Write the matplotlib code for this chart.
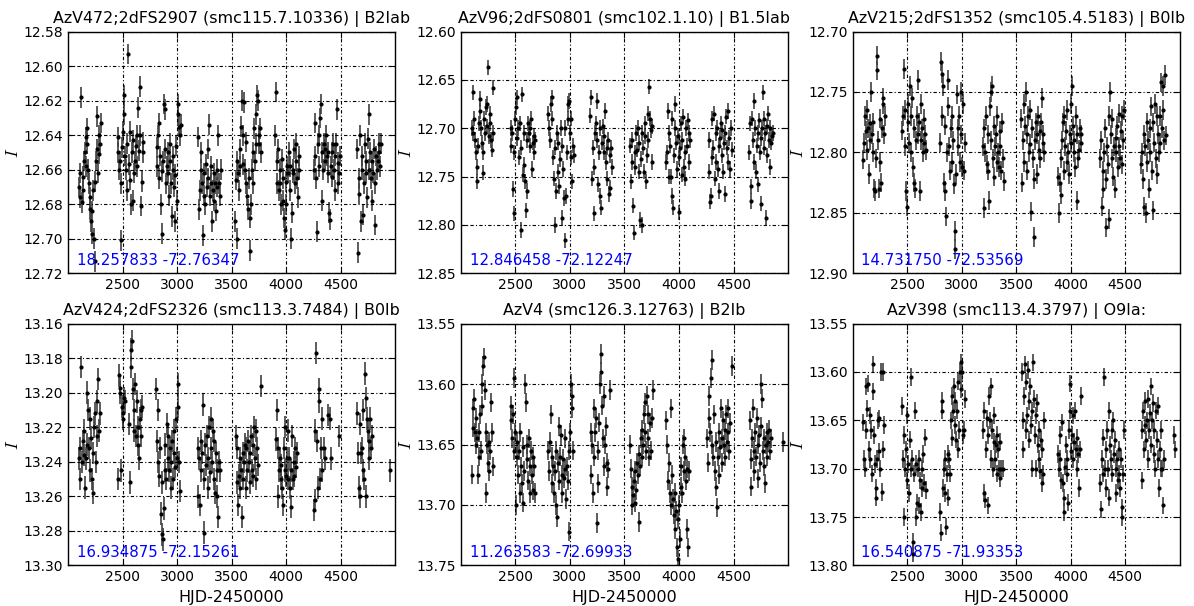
import matplotlib
matplotlib.use('Agg')
import numpy as np
import matplotlib.pyplot as plt

plt.rcParams['mathtext.fontset'] = 'cm'

# ---- light curves: (HJD-2450000, I mag) ----
azv472 = [
    (2098, 12.670), (2105, 12.676), (2112, 12.662), (2120, 12.618), (2126, 12.679), (2133, 12.672), (2140, 12.664),
    (2148, 12.655), (2155, 12.650), (2160, 12.641), (2166, 12.658), (2172, 12.636), (2178, 12.645), (2185, 12.660),
    (2190, 12.668), (2197, 12.676), (2203, 12.683), (2210, 12.690), (2216, 12.684), (2222, 12.697), (2228, 12.672),
    (2235, 12.700), (2243, 12.667), (2250, 12.713), (2256, 12.655), (2262, 12.648), (2268, 12.629), (2274, 12.662),
    (2280, 12.640), (2288, 12.651), (2295, 12.645), (2302, 12.633),
    (2455, 12.650), (2462, 12.641), (2468, 12.660), (2475, 12.655), (2482, 12.668), (2490, 12.701), (2497, 12.647),
    (2503, 12.638), (2510, 12.628), (2517, 12.617), (2523, 12.652), (2530, 12.660), (2537, 12.672), (2544, 12.645),
    (2551, 12.593), (2558, 12.657), (2565, 12.638), (2572, 12.666), (2579, 12.680), (2586, 12.650), (2593, 12.643),
    (2600, 12.678), (2607, 12.662), (2614, 12.655), (2621, 12.646), (2628, 12.640), (2635, 12.658), (2642, 12.624),
    (2649, 12.649), (2656, 12.612), (2663, 12.640), (2670, 12.681), (2677, 12.667), (2684, 12.644), (2690, 12.650),
    (2812, 12.647), (2818, 12.658), (2825, 12.640), (2832, 12.633), (2838, 12.665), (2845, 12.652), (2852, 12.680),
    (2858, 12.661), (2865, 12.697), (2872, 12.655), (2878, 12.622), (2885, 12.648), (2892, 12.625), (2898, 12.668),
    (2905, 12.658), (2912, 12.650), (2918, 12.662), (2925, 12.675), (2932, 12.655), (2938, 12.645), (2945, 12.668),
    (2952, 12.687), (2958, 12.660), (2965, 12.652), (2972, 12.670), (2978, 12.690), (2985, 12.663), (2992, 12.646),
    (2998, 12.678), (3005, 12.628), (3012, 12.622), (3018, 12.635), (3025, 12.640), (3032, 12.634),
    (3195, 12.641), (3202, 12.683), (3209, 12.672), (3216, 12.660), (3223, 12.650), (3230, 12.668), (3237, 12.698),
    (3244, 12.675), (3251, 12.662), (3258, 12.680), (3265, 12.657), (3272, 12.670), (3279, 12.648), (3286, 12.665),
    (3293, 12.634), (3300, 12.675), (3307, 12.658), (3314, 12.668), (3321, 12.690), (3328, 12.672), (3335, 12.662),
    (3342, 12.678), (3349, 12.668), (3356, 12.684), (3363, 12.670), (3370, 12.660), (3377, 12.640), (3384, 12.668),
    (3392, 12.675), (3400, 12.660),
    (3532, 12.690), (3538, 12.666), (3545, 12.700), (3552, 12.655), (3559, 12.662), (3566, 12.672), (3573, 12.648),
    (3580, 12.658), (3587, 12.635), (3594, 12.620), (3601, 12.640), (3608, 12.657), (3615, 12.621), (3622, 12.660),
    (3629, 12.644), (3636, 12.668), (3643, 12.675), (3650, 12.683), (3657, 12.665), (3664, 12.688), (3671, 12.707),
    (3678, 12.680), (3685, 12.660), (3692, 12.668), (3699, 12.650), (3706, 12.636), (3713, 12.655), (3720, 12.628),
    (3727, 12.645), (3734, 12.617), (3741, 12.620), (3748, 12.640), (3755, 12.645), (3762, 12.636), (3770, 12.650),
    (3898, 12.640), (3905, 12.615), (3912, 12.668), (3919, 12.655), (3926, 12.648), (3933, 12.672), (3940, 12.660),
    (3947, 12.668), (3954, 12.680), (3961, 12.654), (3968, 12.665), (3975, 12.678), (3982, 12.688), (3989, 12.695),
    (3996, 12.680), (4003, 12.667), (4010, 12.658), (4017, 12.662), (4024, 12.650), (4031, 12.672), (4038, 12.658),
    (4045, 12.700), (4052, 12.685), (4059, 12.662), (4066, 12.660), (4073, 12.648), (4080, 12.668), (4087, 12.655),
    (4094, 12.645), (4101, 12.665), (4108, 12.676), (4115, 12.660), (4122, 12.652),
    (4255, 12.660), (4262, 12.633), (4269, 12.652), (4276, 12.665), (4283, 12.696), (4290, 12.645), (4297, 12.640),
    (4304, 12.658), (4311, 12.630), (4318, 12.622), (4325, 12.678), (4332, 12.650), (4339, 12.660), (4346, 12.645),
    (4353, 12.655), (4360, 12.648), (4367, 12.640), (4374, 12.652), (4381, 12.662), (4388, 12.650), (4395, 12.685),
    (4402, 12.689), (4409, 12.658), (4416, 12.664), (4423, 12.650), (4430, 12.645), (4437, 12.660), (4444, 12.672),
    (4451, 12.652), (4458, 12.645), (4465, 12.625), (4472, 12.656), (4479, 12.668), (4487, 12.662), (4495, 12.652),
    (4652, 12.648), (4658, 12.708), (4665, 12.665), (4672, 12.674), (4679, 12.640), (4686, 12.690), (4693, 12.660),
    (4700, 12.652), (4707, 12.686), (4714, 12.668), (4721, 12.645), (4728, 12.662), (4735, 12.655), (4742, 12.676),
    (4749, 12.642), (4756, 12.628), (4763, 12.660), (4770, 12.650), (4777, 12.665), (4784, 12.678), (4791, 12.655),
    (4798, 12.662), (4805, 12.648), (4812, 12.692), (4819, 12.668), (4826, 12.652), (4833, 12.660), (4840, 12.655),
    (4847, 12.645), (4854, 12.650), (4862, 12.658), (4870, 12.645),
]

azv96 = [
    (2100, 12.700), (2108, 12.663), (2115, 12.705), (2122, 12.690), (2130, 12.712), (2137, 12.725), (2144, 12.755),
    (2151, 12.740), (2158, 12.718), (2165, 12.695), (2172, 12.682), (2179, 12.670), (2186, 12.700), (2193, 12.715),
    (2200, 12.746), (2207, 12.725), (2214, 12.690), (2221, 12.705), (2228, 12.678), (2235, 12.698), (2242, 12.675),
    (2250, 12.637), (2257, 12.708), (2264, 12.695), (2271, 12.685), (2278, 12.712), (2285, 12.722), (2292, 12.658),
    (2298, 12.705),
    (2455, 12.700), (2462, 12.718), (2470, 12.705), (2477, 12.763), (2484, 12.725), (2491, 12.788), (2498, 12.690),
    (2505, 12.678), (2512, 12.668), (2519, 12.710), (2526, 12.700), (2533, 12.730), (2540, 12.695), (2547, 12.805),
    (2554, 12.720), (2561, 12.665), (2568, 12.748), (2575, 12.705), (2582, 12.738), (2589, 12.755), (2596, 12.785),
    (2603, 12.765), (2610, 12.712), (2617, 12.695), (2624, 12.705), (2631, 12.718), (2638, 12.700), (2645, 12.690),
    (2652, 12.742), (2659, 12.715), (2666, 12.708), (2673, 12.725), (2680, 12.712),
    (2802, 12.685), (2810, 12.700), (2818, 12.712), (2825, 12.675), (2832, 12.668), (2839, 12.690), (2846, 12.730),
    (2853, 12.752), (2860, 12.720), (2867, 12.800), (2874, 12.765), (2881, 12.705), (2888, 12.745), (2895, 12.715),
    (2902, 12.760), (2909, 12.732), (2916, 12.700), (2923, 12.718), (2930, 12.793), (2937, 12.742), (2944, 12.772),
    (2951, 12.700), (2958, 12.816), (2965, 12.770), (2972, 12.725), (2979, 12.690), (2986, 12.675), (2993, 12.672),
    (3000, 12.705), (3007, 12.730), (3014, 12.690), (3021, 12.755), (3028, 12.718), (3035, 12.728),
    (3188, 12.687), (3196, 12.668), (3203, 12.752), (3210, 12.720), (3217, 12.788), (3224, 12.740), (3231, 12.705),
    (3238, 12.695), (3245, 12.672), (3252, 12.712), (3259, 12.758), (3266, 12.725), (3273, 12.700), (3280, 12.770),
    (3287, 12.782), (3294, 12.715), (3301, 12.698), (3308, 12.725), (3315, 12.708), (3322, 12.682), (3329, 12.735),
    (3336, 12.720), (3343, 12.752), (3350, 12.712), (3357, 12.768), (3364, 12.728), (3371, 12.762), (3378, 12.720),
    (3386, 12.740),
    (3552, 12.718), (3559, 12.755), (3566, 12.735), (3573, 12.712), (3580, 12.780), (3587, 12.808), (3594, 12.725),
    (3601, 12.740), (3608, 12.705), (3615, 12.722), (3622, 12.700), (3629, 12.745), (3636, 12.715), (3643, 12.795),
    (3650, 12.732), (3657, 12.705), (3664, 12.800), (3671, 12.720), (3678, 12.745), (3685, 12.695), (3692, 12.708),
    (3699, 12.755), (3706, 12.728), (3713, 12.685), (3720, 12.712), (3727, 12.657), (3734, 12.690), (3741, 12.702),
    (3748, 12.735), (3756, 12.698),
    (3880, 12.735), (3890, 12.725), (3898, 12.682), (3905, 12.750), (3912, 12.705), (3919, 12.718), (3926, 12.750),
    (3933, 12.770), (3940, 12.690), (3947, 12.782), (3954, 12.728), (3961, 12.700), (3968, 12.675), (3975, 12.715),
    (3982, 12.742), (3989, 12.708), (3996, 12.787), (4003, 12.730), (4010, 12.720), (4017, 12.695), (4024, 12.748),
    (4031, 12.712), (4038, 12.688), (4045, 12.740), (4052, 12.725), (4059, 12.752), (4066, 12.700), (4073, 12.718),
    (4080, 12.692), (4088, 12.735), (4096, 12.705), (4104, 12.712),
    (4272, 12.712), (4279, 12.745), (4286, 12.776), (4293, 12.770), (4300, 12.730), (4307, 12.690), (4314, 12.720),
    (4321, 12.685), (4328, 12.752), (4335, 12.705), (4342, 12.735), (4349, 12.700), (4356, 12.742), (4363, 12.718),
    (4370, 12.765), (4377, 12.710), (4384, 12.695), (4391, 12.728), (4398, 12.702), (4405, 12.745), (4412, 12.715),
    (4419, 12.768), (4426, 12.705), (4433, 12.688), (4440, 12.720), (4447, 12.735), (4454, 12.682), (4461, 12.710),
    (4468, 12.742), (4475, 12.700), (4483, 12.722),
    (4642, 12.725), (4650, 12.695), (4657, 12.775), (4664, 12.760), (4671, 12.690), (4678, 12.712), (4685, 12.672),
    (4692, 12.735), (4699, 12.700), (4706, 12.745), (4713, 12.718), (4720, 12.758), (4727, 12.705), (4734, 12.692),
    (4741, 12.725), (4748, 12.710), (4755, 12.778), (4762, 12.700), (4769, 12.663), (4776, 12.690), (4783, 12.720),
    (4790, 12.705), (4797, 12.793), (4804, 12.698), (4811, 12.728), (4818, 12.685), (4825, 12.712), (4832, 12.740),
    (4839, 12.700), (4846, 12.715), (4854, 12.708), (4862, 12.705),
]

azv215 = [
    (2100, 12.806), (2108, 12.792), (2115, 12.770), (2122, 12.782), (2129, 12.765), (2136, 12.798), (2143, 12.780),
    (2150, 12.818), (2157, 12.790), (2164, 12.776), (2171, 12.750), (2178, 12.785), (2185, 12.800), (2192, 12.775),
    (2199, 12.830), (2206, 12.832), (2213, 12.805), (2220, 12.720), (2227, 12.732), (2234, 12.790), (2241, 12.830),
    (2248, 12.772), (2255, 12.808), (2262, 12.825), (2269, 12.780), (2276, 12.760), (2283, 12.755), (2290, 12.785),
    (2298, 12.770),
    (2455, 12.782), (2462, 12.770), (2470, 12.731), (2477, 12.765), (2484, 12.795), (2491, 12.832), (2498, 12.845),
    (2505, 12.775), (2512, 12.760), (2519, 12.792), (2526, 12.745), (2533, 12.800), (2540, 12.770), (2547, 12.755),
    (2554, 12.812), (2561, 12.825), (2568, 12.780), (2575, 12.830), (2582, 12.790), (2589, 12.770), (2596, 12.740),
    (2603, 12.785), (2610, 12.775), (2617, 12.832), (2624, 12.760), (2631, 12.790), (2638, 12.780), (2645, 12.800),
    (2652, 12.772), (2659, 12.792), (2666, 12.785), (2673, 12.798),
    (2803, 12.792), (2810, 12.725), (2817, 12.735), (2824, 12.770), (2831, 12.745), (2838, 12.825), (2845, 12.778),
    (2852, 12.832), (2859, 12.853), (2866, 12.800), (2873, 12.762), (2880, 12.740), (2887, 12.795), (2894, 12.815),
    (2901, 12.780), (2908, 12.770), (2915, 12.808), (2922, 12.790), (2929, 12.826), (2936, 12.865), (2943, 12.880),
    (2950, 12.818), (2957, 12.752), (2964, 12.795), (2971, 12.780), (2978, 12.770), (2985, 12.808), (2992, 12.785),
    (2999, 12.750), (3006, 12.812), (3013, 12.760), (3020, 12.815), (3028, 12.792),
    (3196, 12.795), (3203, 12.846), (3210, 12.780), (3217, 12.800), (3224, 12.770), (3231, 12.810), (3238, 12.785),
    (3245, 12.815), (3252, 12.840), (3259, 12.762), (3266, 12.750), (3273, 12.790), (3280, 12.745), (3287, 12.805),
    (3294, 12.778), (3301, 12.820), (3308, 12.795), (3315, 12.785), (3322, 12.808), (3329, 12.770), (3336, 12.800),
    (3343, 12.812), (3350, 12.782), (3357, 12.795), (3364, 12.815), (3371, 12.775), (3378, 12.805), (3386, 12.824),
    (3548, 12.772), (3555, 12.825), (3562, 12.790), (3569, 12.760), (3576, 12.808), (3583, 12.778), (3590, 12.750),
    (3597, 12.815), (3604, 12.785), (3611, 12.770), (3618, 12.800), (3625, 12.765), (3632, 12.793), (3639, 12.849),
    (3646, 12.780), (3653, 12.805), (3660, 12.822), (3667, 12.870), (3674, 12.790), (3681, 12.775), (3688, 12.818),
    (3695, 12.785), (3702, 12.770), (3709, 12.798), (3716, 12.782), (3723, 12.805), (3730, 12.775), (3737, 12.755),
    (3744, 12.792), (3751, 12.785), (3759, 12.800),
    (3882, 12.820), (3893, 12.850), (3900, 12.825), (3908, 12.835), (3915, 12.805), (3922, 12.790), (3929, 12.775),
    (3936, 12.815), (3943, 12.770), (3950, 12.795), (3957, 12.782), (3964, 12.808), (3971, 12.765), (3978, 12.800),
    (3985, 12.818), (3992, 12.785), (3999, 12.792), (4006, 12.760), (4013, 12.745), (4020, 12.778), (4027, 12.800),
    (4034, 12.790), (4041, 12.812), (4048, 12.770), (4055, 12.840), (4062, 12.785), (4069, 12.805), (4076, 12.798),
    (4083, 12.780), (4091, 12.792), (4099, 12.785),
    (4272, 12.805), (4279, 12.790), (4286, 12.845), (4293, 12.815), (4300, 12.830), (4307, 12.800), (4314, 12.780),
    (4321, 12.822), (4328, 12.862), (4335, 12.795), (4342, 12.810), (4349, 12.770), (4356, 12.855), (4363, 12.750),
    (4370, 12.785), (4377, 12.805), (4384, 12.772), (4391, 12.820), (4398, 12.795), (4405, 12.830), (4412, 12.788),
    (4419, 12.800), (4426, 12.778), (4433, 12.812), (4440, 12.795), (4447, 12.768), (4454, 12.805), (4461, 12.782),
    (4468, 12.810), (4475, 12.770), (4482, 12.790), (4490, 12.765),
    (4648, 12.810), (4655, 12.800), (4662, 12.822), (4669, 12.785), (4676, 12.845), (4683, 12.795), (4690, 12.850),
    (4697, 12.775), (4704, 12.808), (4711, 12.790), (4718, 12.830), (4725, 12.780), (4732, 12.800), (4739, 12.762),
    (4746, 12.815), (4753, 12.848), (4760, 12.775), (4767, 12.792), (4774, 12.760), (4781, 12.805), (4788, 12.770),
    (4795, 12.818), (4802, 12.785), (4809, 12.800), (4816, 12.792), (4823, 12.770), (4830, 12.742), (4837, 12.780),
    (4844, 12.765), (4851, 12.745), (4858, 12.790), (4866, 12.736), (4874, 12.786),
]

azv424 = [
    (2100, 13.238), (2107, 13.232), (2114, 13.250), (2121, 13.185), (2128, 13.240), (2135, 13.228), (2142, 13.236),
    (2149, 13.222), (2156, 13.255), (2163, 13.238), (2170, 13.230), (2177, 13.200), (2184, 13.210), (2191, 13.232),
    (2198, 13.245), (2205, 13.215), (2212, 13.226), (2219, 13.250), (2226, 13.235), (2233, 13.258), (2240, 13.220),
    (2247, 13.212), (2254, 13.240), (2261, 13.205), (2268, 13.225), (2275, 13.192), (2282, 13.222), (2290, 13.212),
    (2458, 13.250), (2465, 13.190), (2472, 13.197), (2479, 13.200), (2486, 13.245), (2493, 13.208), (2500, 13.212),
    (2507, 13.215), (2514, 13.203), (2521, 13.205), (2560, 13.218), (2567, 13.252), (2574, 13.185), (2581, 13.175),
    (2588, 13.170), (2595, 13.198), (2602, 13.210), (2609, 13.222), (2616, 13.195), (2623, 13.225), (2630, 13.205),
    (2637, 13.230), (2644, 13.220), (2651, 13.238), (2658, 13.215), (2665, 13.210), (2672, 13.225), (2680, 13.208),
    (2808, 13.198), (2815, 13.228), (2822, 13.210), (2829, 13.240), (2836, 13.248), (2843, 13.232), (2850, 13.270),
    (2857, 13.282), (2864, 13.252), (2871, 13.285), (2878, 13.267), (2885, 13.245), (2892, 13.230), (2899, 13.250),
    (2906, 13.218), (2913, 13.238), (2920, 13.225), (2927, 13.245), (2934, 13.232), (2941, 13.255), (2948, 13.240),
    (2955, 13.228), (2962, 13.250), (2969, 13.235), (2976, 13.222), (2983, 13.243), (2990, 13.215), (2997, 13.238),
    (3004, 13.195), (3011, 13.208), (3018, 13.240), (3026, 13.257),
    (3188, 13.232), (3195, 13.260), (3202, 13.238), (3209, 13.265), (3216, 13.228), (3223, 13.245), (3230, 13.235),
    (3237, 13.207), (3244, 13.250), (3251, 13.281), (3258, 13.230), (3265, 13.242), (3272, 13.225), (3279, 13.255),
    (3286, 13.238), (3293, 13.220), (3300, 13.246), (3307, 13.232), (3314, 13.215), (3321, 13.240), (3328, 13.222),
    (3335, 13.250), (3342, 13.228), (3349, 13.258), (3356, 13.235), (3363, 13.245), (3370, 13.260), (3377, 13.272),
    (3384, 13.240), (3395, 13.245),
    (3538, 13.225), (3545, 13.232), (3552, 13.252), (3559, 13.265), (3566, 13.248), (3573, 13.255), (3580, 13.238),
    (3587, 13.245), (3594, 13.272), (3601, 13.235), (3608, 13.250), (3615, 13.240), (3622, 13.230), (3629, 13.255),
    (3636, 13.232), (3643, 13.245), (3650, 13.228), (3657, 13.240), (3664, 13.252), (3671, 13.235), (3678, 13.225),
    (3685, 13.245), (3692, 13.230), (3699, 13.248), (3706, 13.220), (3713, 13.238), (3720, 13.222), (3727, 13.250),
    (3734, 13.232), (3741, 13.242), (3773, 13.196),
    (3908, 13.227), (3915, 13.210), (3922, 13.232), (3929, 13.260), (3936, 13.245), (3943, 13.238), (3950, 13.250),
    (3957, 13.242), (3964, 13.255), (3971, 13.265), (3978, 13.232), (3985, 13.245), (3992, 13.220), (3999, 13.248),
    (4006, 13.238), (4013, 13.222), (4020, 13.250), (4027, 13.238), (4034, 13.255), (4041, 13.266), (4048, 13.245),
    (4055, 13.225), (4062, 13.250), (4069, 13.240), (4076, 13.248), (4083, 13.232), (4090, 13.243), (4100, 13.235),
    (4255, 13.268), (4262, 13.262), (4269, 13.222), (4276, 13.177), (4283, 13.228), (4290, 13.255), (4297, 13.198),
    (4304, 13.205), (4311, 13.250), (4318, 13.232), (4325, 13.215), (4332, 13.245), (4345, 13.232), (4360, 13.238),
    (4385, 13.213), (4400, 13.215), (4412, 13.238), (4480, 13.225),
    (4652, 13.212), (4659, 13.235), (4666, 13.255), (4673, 13.260), (4680, 13.218), (4687, 13.235), (4694, 13.232),
    (4701, 13.245), (4708, 13.210), (4715, 13.250), (4722, 13.189), (4729, 13.260), (4736, 13.203), (4743, 13.215),
    (4750, 13.222), (4757, 13.238), (4764, 13.228), (4771, 13.215), (4778, 13.232), (4785, 13.225), (4950, 13.245),
]

azv4 = [
    (2100, 13.675), (2107, 13.620), (2114, 13.636), (2121, 13.612), (2128, 13.640), (2135, 13.628), (2142, 13.650),
    (2149, 13.645), (2156, 13.675), (2163, 13.660), (2170, 13.640), (2177, 13.625), (2184, 13.655), (2191, 13.618),
    (2198, 13.600), (2205, 13.585), (2212, 13.578), (2219, 13.605), (2226, 13.640), (2233, 13.690), (2240, 13.650),
    (2247, 13.665), (2254, 13.648), (2261, 13.672), (2268, 13.655), (2275, 13.615), (2282, 13.640), (2290, 13.668),
    (2455, 13.618), (2462, 13.630), (2469, 13.645), (2476, 13.625), (2483, 13.655), (2490, 13.595), (2497, 13.640),
    (2504, 13.700), (2511, 13.660), (2518, 13.648), (2525, 13.675), (2532, 13.655), (2539, 13.690), (2546, 13.640),
    (2553, 13.668), (2560, 13.682), (2567, 13.652), (2574, 13.698), (2581, 13.672), (2588, 13.600), (2595, 13.615),
    (2602, 13.650), (2609, 13.662), (2616, 13.680), (2623, 13.645), (2630, 13.668), (2637, 13.690), (2644, 13.655),
    (2651, 13.675), (2658, 13.660), (2665, 13.688), (2672, 13.668), (2680, 13.690),
    (2803, 13.655), (2812, 13.672), (2819, 13.648), (2826, 13.625), (2833, 13.660), (2840, 13.682), (2847, 13.668),
    (2854, 13.690), (2861, 13.672), (2868, 13.700), (2875, 13.655), (2882, 13.710), (2889, 13.665), (2896, 13.635),
    (2903, 13.680), (2910, 13.660), (2917, 13.642), (2924, 13.675), (2931, 13.690), (2938, 13.662), (2945, 13.678),
    (2952, 13.670), (2959, 13.645), (2966, 13.695), (2973, 13.668), (2980, 13.680), (2987, 13.722), (2994, 13.655),
    (3001, 13.640), (3008, 13.600), (3015, 13.620), (3022, 13.610), (3030, 13.655),
    (3190, 13.640), (3197, 13.675), (3204, 13.650), (3211, 13.690), (3218, 13.660), (3225, 13.620), (3232, 13.640),
    (3239, 13.628), (3246, 13.715), (3253, 13.655), (3260, 13.682), (3267, 13.632), (3274, 13.600), (3281, 13.590),
    (3288, 13.575), (3295, 13.618), (3302, 13.645), (3309, 13.610), (3316, 13.668), (3323, 13.650), (3330, 13.635),
    (3337, 13.685), (3344, 13.665), (3351, 13.670), (3365, 13.605),
    (3552, 13.650), (3559, 13.670), (3566, 13.685), (3573, 13.700), (3580, 13.692), (3587, 13.680), (3594, 13.698),
    (3601, 13.672), (3608, 13.688), (3615, 13.665), (3622, 13.675), (3629, 13.714), (3636, 13.658), (3643, 13.668),
    (3650, 13.645), (3657, 13.660), (3664, 13.638), (3671, 13.650), (3678, 13.625), (3685, 13.640), (3692, 13.615),
    (3699, 13.655), (3706, 13.610), (3713, 13.645), (3720, 13.625), (3727, 13.660), (3734, 13.632), (3741, 13.655),
    (3750, 13.628), (3760, 13.605),
    (3880, 13.630), (3893, 13.650), (3903, 13.680), (3910, 13.665), (3917, 13.690), (3924, 13.700), (3931, 13.620),
    (3938, 13.675), (3945, 13.695), (3952, 13.708), (3959, 13.720), (3966, 13.690), (3973, 13.705), (3980, 13.735),
    (3987, 13.712), (3994, 13.745), (4001, 13.700), (4008, 13.728), (4015, 13.685), (4022, 13.668), (4029, 13.690),
    (4036, 13.650), (4043, 13.672), (4050, 13.645), (4057, 13.660), (4064, 13.680), (4071, 13.670), (4078, 13.720),
    (4085, 13.735), (4094, 13.672),
    (4258, 13.645), (4265, 13.665), (4272, 13.628), (4279, 13.610), (4286, 13.640), (4293, 13.595), (4300, 13.650),
    (4307, 13.580), (4314, 13.660), (4321, 13.625), (4328, 13.672), (4335, 13.648), (4342, 13.685), (4349, 13.702),
    (4356, 13.660), (4363, 13.640), (4370, 13.675), (4377, 13.652), (4384, 13.620), (4391, 13.645), (4398, 13.665),
    (4405, 13.630), (4412, 13.650), (4419, 13.638), (4426, 13.660), (4433, 13.625), (4440, 13.648), (4447, 13.640),
    (4454, 13.620), (4461, 13.655), (4470, 13.632), (4488, 13.585),
    (4650, 13.630), (4657, 13.662), (4664, 13.685), (4671, 13.645), (4678, 13.620), (4685, 13.655), (4692, 13.672),
    (4699, 13.640), (4706, 13.660), (4713, 13.628), (4720, 13.650), (4727, 13.678), (4734, 13.642), (4741, 13.665),
    (4748, 13.600), (4755, 13.635), (4762, 13.612), (4769, 13.655), (4776, 13.645), (4783, 13.668), (4790, 13.682),
    (4797, 13.650), (4804, 13.640), (4811, 13.660), (4818, 13.648), (4825, 13.638), (4832, 13.655), (4840, 13.645),
    (4950, 13.648),
]

azv398 = [
    (2100, 13.652), (2107, 13.690), (2114, 13.700), (2121, 13.615), (2128, 13.660), (2135, 13.638), (2142, 13.612),
    (2149, 13.680), (2156, 13.645), (2163, 13.690), (2170, 13.660), (2177, 13.705), (2184, 13.620), (2191, 13.592),
    (2198, 13.665), (2205, 13.695), (2212, 13.720), (2219, 13.730), (2226, 13.690), (2233, 13.650), (2240, 13.682),
    (2247, 13.648), (2254, 13.700), (2261, 13.600), (2268, 13.724), (2275, 13.680), (2282, 13.600), (2290, 13.655),
    (2455, 13.635), (2462, 13.690), (2469, 13.665), (2476, 13.750), (2483, 13.700), (2490, 13.680), (2497, 13.712),
    (2504, 13.645), (2511, 13.695), (2518, 13.725), (2525, 13.670), (2532, 13.700), (2539, 13.605), (2546, 13.690),
    (2553, 13.776), (2557, 13.788), (2564, 13.705), (2571, 13.640), (2578, 13.695), (2585, 13.750), (2592, 13.735),
    (2599, 13.700), (2606, 13.738), (2613, 13.690), (2620, 13.712), (2627, 13.745), (2634, 13.700), (2641, 13.720),
    (2648, 13.685), (2655, 13.715), (2662, 13.668), (2670, 13.722),
    (2806, 13.745), (2812, 13.766), (2818, 13.640), (2824, 13.630), (2831, 13.720), (2838, 13.700), (2845, 13.690),
    (2852, 13.725), (2859, 13.760), (2866, 13.705), (2873, 13.685), (2880, 13.730), (2887, 13.690), (2894, 13.705),
    (2901, 13.650), (2908, 13.668), (2915, 13.625), (2922, 13.640), (2929, 13.615), (2936, 13.655), (2943, 13.630),
    (2950, 13.670), (2957, 13.640), (2964, 13.680), (2971, 13.610), (2978, 13.660), (2985, 13.600), (2992, 13.590),
    (2999, 13.618), (3006, 13.600), (3013, 13.665), (3020, 13.660), (3028, 13.628),
    (3196, 13.660), (3203, 13.640), (3210, 13.725), (3217, 13.732), (3224, 13.680), (3231, 13.648), (3238, 13.665),
    (3245, 13.738), (3252, 13.625), (3259, 13.650), (3266, 13.690), (3273, 13.615), (3280, 13.660), (3287, 13.700),
    (3294, 13.672), (3301, 13.645), (3308, 13.690), (3315, 13.675), (3322, 13.665), (3329, 13.705), (3336, 13.680),
    (3343, 13.700), (3350, 13.672), (3357, 13.710), (3365, 13.700), (3380, 13.700),
    (3552, 13.600), (3559, 13.650), (3566, 13.680), (3573, 13.625), (3580, 13.592), (3587, 13.660), (3594, 13.610),
    (3601, 13.645), (3608, 13.598), (3615, 13.670), (3622, 13.630), (3629, 13.615), (3636, 13.655), (3643, 13.640),
    (3650, 13.700), (3657, 13.590), (3664, 13.628), (3671, 13.665), (3678, 13.645), (3685, 13.700), (3692, 13.632),
    (3699, 13.675), (3706, 13.660), (3713, 13.690), (3720, 13.702), (3727, 13.670), (3734, 13.715), (3741, 13.680),
    (3748, 13.705), (3760, 13.650),
    (3880, 13.685), (3893, 13.700), (3900, 13.690), (3907, 13.665), (3914, 13.712), (3921, 13.652), (3928, 13.715),
    (3935, 13.730), (3942, 13.745), (3949, 13.698), (3956, 13.675), (3963, 13.705), (3970, 13.690), (3977, 13.735),
    (3984, 13.660), (3991, 13.612), (3998, 13.640), (4005, 13.682), (4012, 13.665), (4019, 13.645), (4026, 13.690),
    (4033, 13.672), (4040, 13.640), (4047, 13.680), (4054, 13.668), (4061, 13.700), (4068, 13.685), (4075, 13.720),
    (4082, 13.680), (4095, 13.625),
    (4272, 13.715), (4279, 13.742), (4286, 13.690), (4293, 13.705), (4300, 13.668), (4307, 13.605), (4314, 13.700),
    (4321, 13.680), (4328, 13.720), (4335, 13.660), (4342, 13.700), (4349, 13.640), (4356, 13.730), (4363, 13.675),
    (4370, 13.690), (4377, 13.660), (4384, 13.705), (4391, 13.650), (4398, 13.685), (4405, 13.670), (4412, 13.700),
    (4419, 13.725), (4426, 13.690), (4433, 13.712), (4440, 13.680), (4447, 13.705), (4454, 13.720), (4461, 13.690),
    (4468, 13.740), (4475, 13.750), (4482, 13.705), (4490, 13.660),
    (4650, 13.660), (4657, 13.712), (4664, 13.640), (4671, 13.680), (4678, 13.655), (4685, 13.630), (4692, 13.670),
    (4699, 13.650), (4706, 13.690), (4713, 13.628), (4720, 13.660), (4727, 13.642), (4734, 13.615), (4741, 13.675),
    (4748, 13.650), (4755, 13.632), (4762, 13.685), (4769, 13.660), (4776, 13.700), (4783, 13.640), (4790, 13.670),
    (4797, 13.635), (4804, 13.690), (4811, 13.720), (4818, 13.680), (4825, 13.700), (4832, 13.660), (4839, 13.700),
    (4846, 13.738), (4853, 13.690), (4950, 13.665), (4958, 13.680),
]

titles = ['AzV472;2dFS2907 (smc115.7.10336) | B2Iab',
          'AzV96;2dFS0801 (smc102.1.10) | B1.5Iab',
          'AzV215;2dFS1352 (smc105.4.5183) | B0Ib',
          'AzV424;2dFS2326 (smc113.3.7484) | B0Ib',
          'AzV4 (smc126.3.12763) | B2Ib',
          'AzV398 (smc113.4.3797) | O9Ia:']
coords = ['18.257833 -72.76347', '12.846458 -72.12247', '14.731750 -72.53569',
          '16.934875 -72.15261', '11.263583 -72.69933', '16.540875 -71.93353']
curves = [azv472, azv96, azv215, azv424, azv4, azv398]
# typical photometric error per star
errs = [0.006, 0.008, 0.008, 0.0065, 0.008, 0.009]
# (bright, faint, step) of the I axis
ylims = [(12.58, 12.72, 0.02), (12.60, 12.85, 0.05), (12.70, 12.90, 0.05),
         (13.16, 13.30, 0.02), (13.55, 13.75, 0.05), (13.55, 13.80, 0.05)]
xticks = [2500, 3000, 3500, 4000, 4500]

fig = plt.figure(figsize=(11.94, 6.06), dpi=100)
lefts = [0.057, 0.386, 0.714]
bottoms = [0.549, 0.067]
w, h = 0.274, 0.399

for i in range(6):
    row, col = divmod(i, 3)
    ax = fig.add_axes([lefts[col], bottoms[row], w, h])
    t, m = np.array(curves[i]).T
    ax.errorbar(t, m, yerr=errs[i], fmt='.', color='k', ms=4,
                ecolor='0.25', elinewidth=1.2, capsize=0, zorder=2)
    lo, hi, st = ylims[i]
    ax.set_ylim(hi, lo)
    ax.set_yticks(np.arange(lo, hi + st / 2, st))
    ax.yaxis.set_major_formatter(plt.FormatStrFormatter('%.2f'))
    ax.set_xlim(2000, 5000)
    ax.set_xticks(xticks)
    ax.grid(True, color='k', linestyle=(0, (3, 2, 1, 2)), linewidth=0.8, zorder=3)
    ax.set_axisbelow(False)
    ax.tick_params(direction='in', top=True, right=True, labelsize=10, length=4)
    for s in ax.spines.values():
        s.set_linewidth(1.0)
    ax.set_title(titles[i], fontsize=11.4)
    ax.set_ylabel(r'$I$', fontsize=12, labelpad=1)
    ax.text(0.027, 0.035, coords[i], color='blue', fontsize=10.8,
            transform=ax.transAxes, va='baseline', zorder=5)
    if row == 1:
        ax.set_xlabel('HJD-2450000', fontsize=11.5)

plt.savefig('out.png', dpi=100)
